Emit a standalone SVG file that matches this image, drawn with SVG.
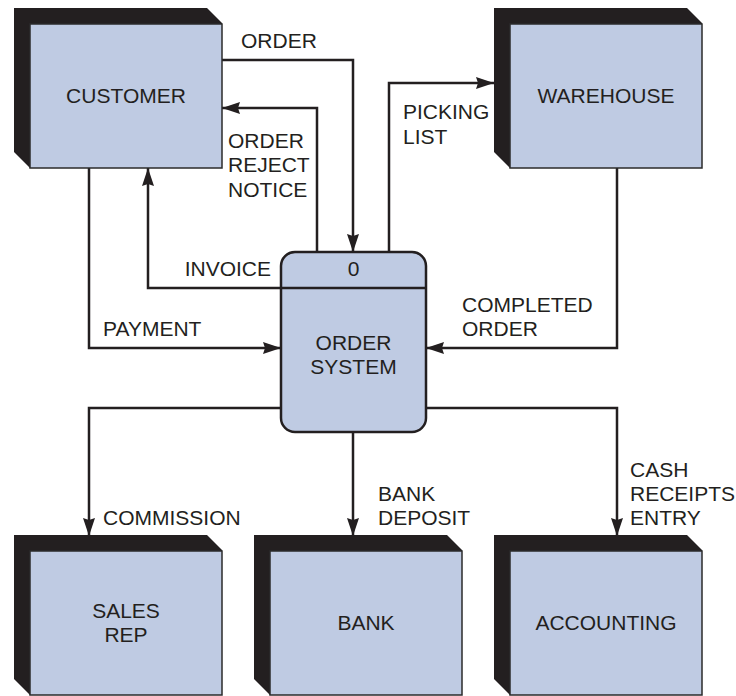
<svg xmlns="http://www.w3.org/2000/svg" xmlns:xlink="http://www.w3.org/1999/xlink" width="736" height="696" viewBox="0 0 736 696">
<style>
text{font-family:"Liberation Sans",Arial,Helvetica,sans-serif;font-size:21px;fill:#231f20}
.c{text-anchor:middle}
.flow{fill:none;stroke:#231f20;stroke-width:2.5;marker-end:url(#arr)}
.face{fill:#bfcbe3;stroke:#2b2b2b;stroke-width:1.5}
.shadow{fill:#231f20}
.proc{fill:#bfcbe3;stroke:#231f20;stroke-width:2.5}
</style>
<defs>
<marker id="arr" markerUnits="userSpaceOnUse" markerWidth="18" markerHeight="12" viewBox="0 0 18 12" refX="18" refY="6" orient="auto">
<path d="M0,0 L18,6 L0,12 L2,6 z" fill="#231f20"/>
</marker>
<g id="ext">
<polygon class="shadow" points="0,0 193,0 208,15 208,160 16,160 0,144"/>
<rect class="face" x="16" y="16" width="192" height="144"/>
</g>
</defs>
<g id="connectors">
<path class="flow" d="M222,60 H353 V252"/>
<path class="flow" d="M317,252 V108 H222"/>
<path class="flow" d="M389,252 V83 H494"/>
<path class="flow" d="M281,288 H148 V168"/>
<path class="flow" d="M89,168 V348 H281"/>
<path class="flow" d="M617,168 V348 H426"/>
<path class="flow" d="M281,408 H89 V536"/>
<path class="flow" d="M353,432 V536"/>
<path class="flow" d="M426,408 H617 V536"/>
<text x="241" y="48">ORDER</text>
<text x="228" y="148">ORDER</text>
<text x="228" y="172">REJECT</text>
<text x="228" y="197">NOTICE</text>
<text x="403" y="119">PICKING</text>
<text x="403" y="144">LIST</text>
<text x="271" y="276" text-anchor="end">INVOICE</text>
<text x="103" y="336">PAYMENT</text>
<text x="462" y="312">COMPLETED</text>
<text x="462" y="336">ORDER</text>
<text x="103" y="525">COMMISSION</text>
<text x="378" y="501">BANK</text>
<text x="378" y="525">DEPOSIT</text>
<text x="630" y="477">CASH</text>
<text x="630" y="501">RECEIPTS</text>
<text x="630" y="525">ENTRY</text>
</g>
<g id="customer">
<use xlink:href="#ext" x="14" y="8"/>
<text class="c" x="126" y="103">CUSTOMER</text>
</g>
<g id="warehouse">
<use xlink:href="#ext" x="494" y="8"/>
<text class="c" x="606" y="103">WAREHOUSE</text>
</g>
<g id="order-system">
<rect class="proc" x="281" y="252" width="145" height="180" rx="14"/>
<line x1="281" y1="288" x2="426" y2="288" stroke="#231f20" stroke-width="2.5"/>
<text class="c" x="353.5" y="276">0</text>
<text class="c" x="353.5" y="350">ORDER</text>
<text class="c" x="353.5" y="374">SYSTEM</text>
</g>
<g id="sales-rep">
<use xlink:href="#ext" x="14" y="535"/>
<text class="c" x="126" y="618">SALES</text>
<text class="c" x="126" y="642">REP</text>
</g>
<g id="bank">
<use xlink:href="#ext" x="254" y="535"/>
<text class="c" x="366" y="630">BANK</text>
</g>
<g id="accounting">
<use xlink:href="#ext" x="494" y="535"/>
<text class="c" x="606" y="630">ACCOUNTING</text>
</g>
</svg>
